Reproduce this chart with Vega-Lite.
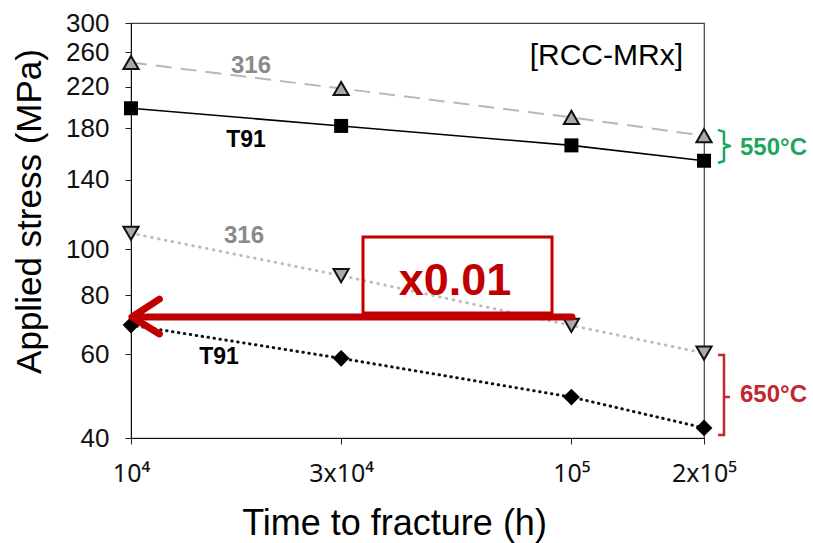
{
  "$schema": "https://vega.github.io/schema/vega-lite/v6.json",
  "width": 573,
  "height": 415,
  "autosize": {"type": "none"},
  "padding": {"left": 131, "top": 23, "right": 109, "bottom": 105},
  "background": "white",
  "config": {"font": "Liberation Sans", "view": {"stroke": "#444", "strokeWidth": 1.2}},
  "datasets": {
    "pts": [
      {"s": "316_550", "x": 10000, "y": 247.6},
      {"s": "316_550", "x": 30000, "y": 218.3},
      {"s": "316_550", "x": 100000, "y": 189.7},
      {"s": "316_550", "x": 200000, "y": 173.6},
      {"s": "T91_550", "x": 10000, "y": 198.3},
      {"s": "T91_550", "x": 30000, "y": 182.0},
      {"s": "T91_550", "x": 100000, "y": 165.6},
      {"s": "T91_550", "x": 200000, "y": 153.7},
      {"s": "316_650", "x": 10000, "y": 108.1},
      {"s": "316_650", "x": 30000, "y": 88.0},
      {"s": "316_650", "x": 100000, "y": 69.1},
      {"s": "316_650", "x": 200000, "y": 60.4},
      {"s": "T91_650", "x": 10000, "y": 69.2},
      {"s": "T91_650", "x": 30000, "y": 58.9},
      {"s": "T91_650", "x": 100000, "y": 48.8},
      {"s": "T91_650", "x": 200000, "y": 42.0}
    ],
    "notes": [
      {"k": "g316", "t": "316", "x": 18729, "y": 235.4},
      {"k": "g316", "t": "316", "x": 18056, "y": 103.1},
      {"k": "t91", "t": "T91", "x": 18246, "y": 164.4},
      {"k": "t91", "t": "T91", "x": 15842, "y": 57.3},
      {"k": "rcc", "t": "[RCC-MRx]", "x": 179210, "y": 244.7},
      {"k": "x001", "t": "x0.01", "x": 54413, "y": 80.08},
      {"k": "g550", "t": "550°C", "x": 241420, "y": 158.1},
      {"k": "r650", "t": "650°C", "x": 241420, "y": 47.64}
    ],
    "brackets": [
      {"c": "green", "g": "b1", "o": 1, "x": 215160, "y": 178.5},
      {"c": "green", "g": "b1", "o": 2, "x": 222030, "y": 176.8},
      {"c": "green", "g": "b1", "o": 3, "x": 222030, "y": 166.8},
      {"c": "green", "g": "b1", "o": 4, "x": 229110, "y": 165.1},
      {"c": "green", "g": "b1", "o": 5, "x": 222030, "y": 163.6},
      {"c": "green", "g": "b1", "o": 6, "x": 222030, "y": 153.5},
      {"c": "green", "g": "b1", "o": 7, "x": 215160, "y": 152.0},
      {"c": "red", "g": "r1", "o": 1, "x": 215160, "y": 59.85},
      {"c": "red", "g": "r1", "o": 2, "x": 222030, "y": 59.85},
      {"c": "red", "g": "r1", "o": 3, "x": 222030, "y": 40.59},
      {"c": "red", "g": "r1", "o": 4, "x": 215160, "y": 40.59},
      {"c": "red", "g": "r2", "o": 1, "x": 222030, "y": 48.81},
      {"c": "red", "g": "r2", "o": 2, "x": 229110, "y": 48.81}
    ],
    "arrow": [
      {"g": "shaft", "o": 1, "x": 100304, "y": 71.98},
      {"g": "shaft", "o": 2, "x": 10100, "y": 71.98},
      {"g": "head", "o": 1, "x": 11600, "y": 78.5},
      {"g": "head", "o": 2, "x": 10050, "y": 71.98},
      {"g": "head", "o": 3, "x": 11600, "y": 66.3}
    ],
    "box": [{"x": 33636, "x2": 90349, "y": 106.1, "y2": 73.4}]
  },
  "encoding": {
    "x": {
      "field": "x", "type": "quantitative",
      "scale": {"type": "log", "domain": [10000, 200000], "nice": false},
      "axis": {
        "title": "Time to fracture (h)",
        "values": [10000, 30000, 100000, 200000],
        "labelExpr": "datum.value == 10000 ? '10⁴' : datum.value == 30000 ? '3x10⁴' : datum.value == 100000 ? '10⁵' : '2x10⁵'",
        "labelFont": "Noto Sans",
        "labelFontSize": 25, "labelColor": "#111", "labelPadding": 17, "labelFlush": false, "labelOverlap": false,
        "tickSize": 6, "tickColor": "#222", "domainColor": "#111", "grid": false,
        "titleFontSize": 36, "titleFontWeight": "normal", "titleColor": "#000",
        "titleX": 263, "titleY": 96, "titleBaseline": "alphabetic", "titleAlign": "center"
      }
    },
    "y": {
      "field": "y", "type": "quantitative",
      "scale": {"type": "log", "domain": [40, 300], "nice": false},
      "axis": {
        "title": "Applied stress (MPa)",
        "values": [40, 60, 80, 100, 140, 180, 220, 260, 300],
        "labelFontSize": 26, "labelColor": "#111", "labelPadding": 16, "labelFlush": false, "labelOverlap": false,
        "tickSize": 6, "tickColor": "#222", "domainColor": "#111", "grid": false,
        "titleFontSize": 35, "titleFontWeight": "normal", "titleColor": "#000",
        "titleX": -91, "titleY": 188, "titleBaseline": "alphabetic", "titleAlign": "center", "titleAngle": -90
      }
    }
  },
  "layer": [
    {"data": {"name": "pts"}, "transform": [{"filter": "datum.s == '316_550'"}],
     "mark": {"type": "line", "color": "#b8b8b8", "strokeWidth": 2, "strokeDash": [16, 9]}},
    {"data": {"name": "pts"}, "transform": [{"filter": "datum.s == 'T91_550'"}],
     "mark": {"type": "line", "color": "#000", "strokeWidth": 1.6}},
    {"data": {"name": "pts"}, "transform": [{"filter": "datum.s == '316_650'"}],
     "mark": {"type": "line", "color": "#bdbdbd", "strokeWidth": 3, "strokeDash": [0.5, 6.5], "strokeCap": "round"}},
    {"data": {"name": "pts"}, "transform": [{"filter": "datum.s == 'T91_650'"}],
     "mark": {"type": "line", "color": "#111", "strokeWidth": 3, "strokeDash": [0.5, 5.5], "strokeCap": "round"}},
    {"data": {"name": "pts"}, "transform": [{"filter": "datum.s == '316_550'"}],
     "mark": {"type": "point", "shape": "triangle-up", "size": 230, "filled": true, "fill": "#a9a9a9", "stroke": "#111", "strokeWidth": 2, "opacity": 1}},
    {"data": {"name": "pts"}, "transform": [{"filter": "datum.s == 'T91_550'"}],
     "mark": {"type": "point", "shape": "square", "size": 196, "filled": true, "fill": "#000", "opacity": 1}},
    {"data": {"name": "pts"}, "transform": [{"filter": "datum.s == '316_650'"}],
     "mark": {"type": "point", "shape": "triangle-down", "size": 230, "filled": true, "fill": "#a9a9a9", "stroke": "#111", "strokeWidth": 2, "opacity": 1}},
    {"data": {"name": "pts"}, "transform": [{"filter": "datum.s == 'T91_650'"}],
     "mark": {"type": "point", "shape": "diamond", "size": 280, "filled": true, "fill": "#000", "opacity": 1}},
    {"data": {"name": "box"},
     "mark": {"type": "rect", "fill": "transparent", "stroke": "#C00000", "strokeWidth": 3},
     "encoding": {"x2": {"field": "x2"}, "y2": {"field": "y2"}}},
    {"data": {"name": "arrow"},
     "mark": {"type": "line", "color": "#C00000", "strokeWidth": 7, "strokeCap": "round", "strokeJoin": "round"},
     "encoding": {"detail": {"field": "g"}, "order": {"field": "o"}}},
    {"data": {"name": "brackets"}, "transform": [{"filter": "datum.c == 'green'"}],
     "mark": {"type": "line", "color": "#1EA75A", "strokeWidth": 2.5, "strokeJoin": "round"},
     "encoding": {"detail": {"field": "g"}, "order": {"field": "o"}}},
    {"data": {"name": "brackets"}, "transform": [{"filter": "datum.c == 'red'"}],
     "mark": {"type": "line", "color": "#C1272D", "strokeWidth": 2.5},
     "encoding": {"detail": {"field": "g"}, "order": {"field": "o"}}},
    {"data": {"name": "notes"}, "transform": [{"filter": "datum.k == 'g316'"}],
     "mark": {"type": "text", "fontSize": 24, "fontWeight": "bold", "color": "#8a8a8a", "align": "center", "baseline": "alphabetic"},
     "encoding": {"text": {"field": "t"}}},
    {"data": {"name": "notes"}, "transform": [{"filter": "datum.k == 't91'"}],
     "mark": {"type": "text", "fontSize": 23, "fontWeight": "bold", "color": "#000", "align": "center", "baseline": "alphabetic"},
     "encoding": {"text": {"field": "t"}}},
    {"data": {"name": "notes"}, "transform": [{"filter": "datum.k == 'rcc'"}],
     "mark": {"type": "text", "fontSize": 30, "color": "#000", "align": "right", "baseline": "alphabetic"},
     "encoding": {"text": {"field": "t"}}},
    {"data": {"name": "notes"}, "transform": [{"filter": "datum.k == 'x001'"}],
     "mark": {"type": "text", "fontSize": 45, "fontWeight": "bold", "color": "#C00000", "align": "center", "baseline": "alphabetic"},
     "encoding": {"text": {"field": "t"}}},
    {"data": {"name": "notes"}, "transform": [{"filter": "datum.k == 'g550'"}],
     "mark": {"type": "text", "fontSize": 24, "fontWeight": "bold", "color": "#1EA75A", "align": "left", "baseline": "alphabetic"},
     "encoding": {"text": {"field": "t"}}},
    {"data": {"name": "notes"}, "transform": [{"filter": "datum.k == 'r650'"}],
     "mark": {"type": "text", "fontSize": 24, "fontWeight": "bold", "color": "#C1272D", "align": "left", "baseline": "alphabetic"},
     "encoding": {"text": {"field": "t"}}}
  ]
}
